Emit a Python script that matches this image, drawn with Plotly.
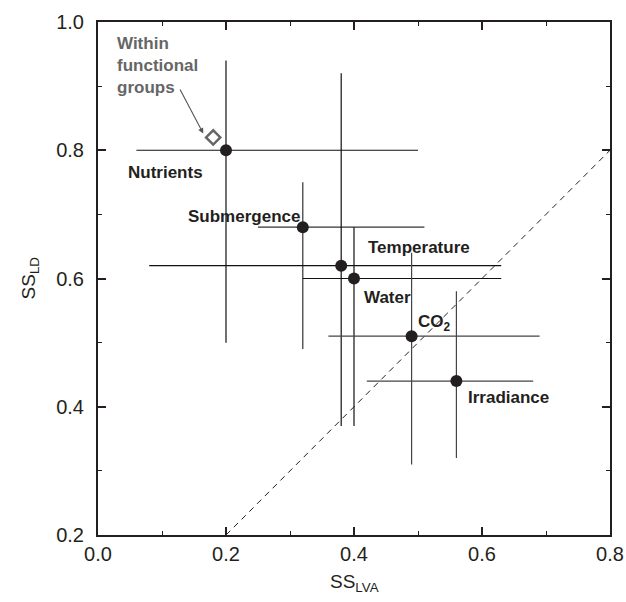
import plotly.graph_objects as go

categories = ["Nutrients", "Submergence", "Temperature", "Water", "CO<sub>2</sub>", "Irradiance"]
ss_lva = [0.20, 0.32, 0.38, 0.40, 0.49, 0.56]
ss_ld = [0.80, 0.68, 0.62, 0.60, 0.51, 0.44]
lva_low = [0.06, 0.25, 0.08, 0.32, 0.36, 0.42]
lva_high = [0.50, 0.51, 0.63, 0.63, 0.69, 0.68]
ld_low = [0.50, 0.49, 0.37, 0.37, 0.31, 0.32]
ld_high = [0.94, 0.75, 0.92, 0.68, 0.64, 0.58]
bar_colors = ["#111111", "#333333", "#111111", "#111111", "#444444", "#444444"]

within_x = [0.18]
within_y = [0.82]

label_x = [0.043, 0.137, 0.418, 0.412, 0.497, 0.575]
label_y = [0.766, 0.696, 0.648, 0.570, 0.530, 0.414]

x_ticks = [0.0, 0.2, 0.4, 0.6, 0.8]
y_ticks = [0.2, 0.4, 0.6, 0.8, 1.0]

FONT = "Liberation Sans, Arial, Helvetica, sans-serif"
INK = "#231f20"

fig = go.Figure()

# 1:1 dashed line
fig.add_trace(go.Scatter(x=[0.2, 0.8], y=[0.2, 0.8], mode="lines",
                         line=dict(color=INK, width=1, dash="6px,5px"),
                         hoverinfo="skip", showlegend=False))

for i, c in enumerate(categories):
    fig.add_trace(go.Scatter(
        x=[ss_lva[i]], y=[ss_ld[i]], mode="markers",
        marker=dict(size=12, color=INK),
        error_x=dict(type="data", symmetric=False,
                     array=[lva_high[i] - ss_lva[i]],
                     arrayminus=[ss_lva[i] - lva_low[i]],
                     width=0, thickness=1.2, color=bar_colors[i]),
        error_y=dict(type="data", symmetric=False,
                     array=[ld_high[i] - ss_ld[i]],
                     arrayminus=[ss_ld[i] - ld_low[i]],
                     width=0, thickness=1.2, color=bar_colors[i]),
        showlegend=False, name=c))

fig.add_trace(go.Scatter(x=within_x, y=within_y, mode="markers",
                         marker=dict(symbol="diamond-open", size=11, color="#666666",
                                     line=dict(width=2.5, color="#666666")),
                         showlegend=False))

annotations = []
for i, c in enumerate(categories):
    annotations.append(dict(x=label_x[i], y=label_y[i], xref="x", yref="y", text="<b>%s</b>" % c,
                            showarrow=False, xanchor="left", yanchor="middle",
                            font=dict(family=FONT, size=17, color=INK)))

annotations.append(dict(x=0.027, y=0.985, xref="x", yref="y",
                        text="<b>Within<br>functional<br>groups</b>", align="left",
                        showarrow=False, xanchor="left", yanchor="top",
                        font=dict(family=FONT, size=17, color="#666666")))
annotations.append(dict(x=0.1645, y=0.826, ax=0.127, ay=0.897, xref="x", yref="y",
                        axref="x", ayref="y", text="", showarrow=True,
                        arrowhead=2, arrowsize=1, arrowwidth=1.1, arrowcolor="#555555"))

annotations.append(dict(x=0.5, y=-0.094, xref="paper", yref="paper", text="SS<sub>LVA</sub>",
                        showarrow=False, xanchor="center", yanchor="middle",
                        font=dict(family=FONT, size=19, color=INK)))
annotations.append(dict(x=-0.133, y=0.5, xref="paper", yref="paper", text="SS<sub>LD</sub>",
                        showarrow=False, xanchor="center", yanchor="middle", textangle=-90,
                        font=dict(family=FONT, size=19, color=INK)))

axis_common = dict(showgrid=False, zeroline=False, showline=True, linewidth=2, linecolor=INK,
                   mirror="allticks", ticks="inside", ticklen=8, tickwidth=1.5, tickcolor=INK,
                   tickfont=dict(family=FONT, size=20, color=INK),
                   minor=dict(ticks="inside", ticklen=4, tickwidth=1, tickcolor=INK, dtick=0.1,
                              showgrid=False))

fig.update_xaxes(range=[0, 0.8], tickvals=x_ticks, ticktext=["%.1f" % v for v in x_ticks],
                 ticklabelstandoff=0, ticklabeloverflow="allow", **axis_common)
fig.update_yaxes(range=[0.2, 1.0], tickvals=y_ticks, ticktext=["%.1f" % v for v in y_ticks],
                 ticklabelstandoff=8, **axis_common)

fig.update_layout(width=626, height=602, margin=dict(l=98, r=16, t=22, b=67, autoexpand=False),
                  paper_bgcolor="white", plot_bgcolor="white",
                  annotations=annotations, font=dict(family=FONT, color=INK))

# remove the browser's default 8px body margin so the figure fills the window exactly
fig.write_html("out.html", config={"displayModeBar": False},
               post_script="document.body.style.margin='0';document.body.style.overflow='hidden';")
